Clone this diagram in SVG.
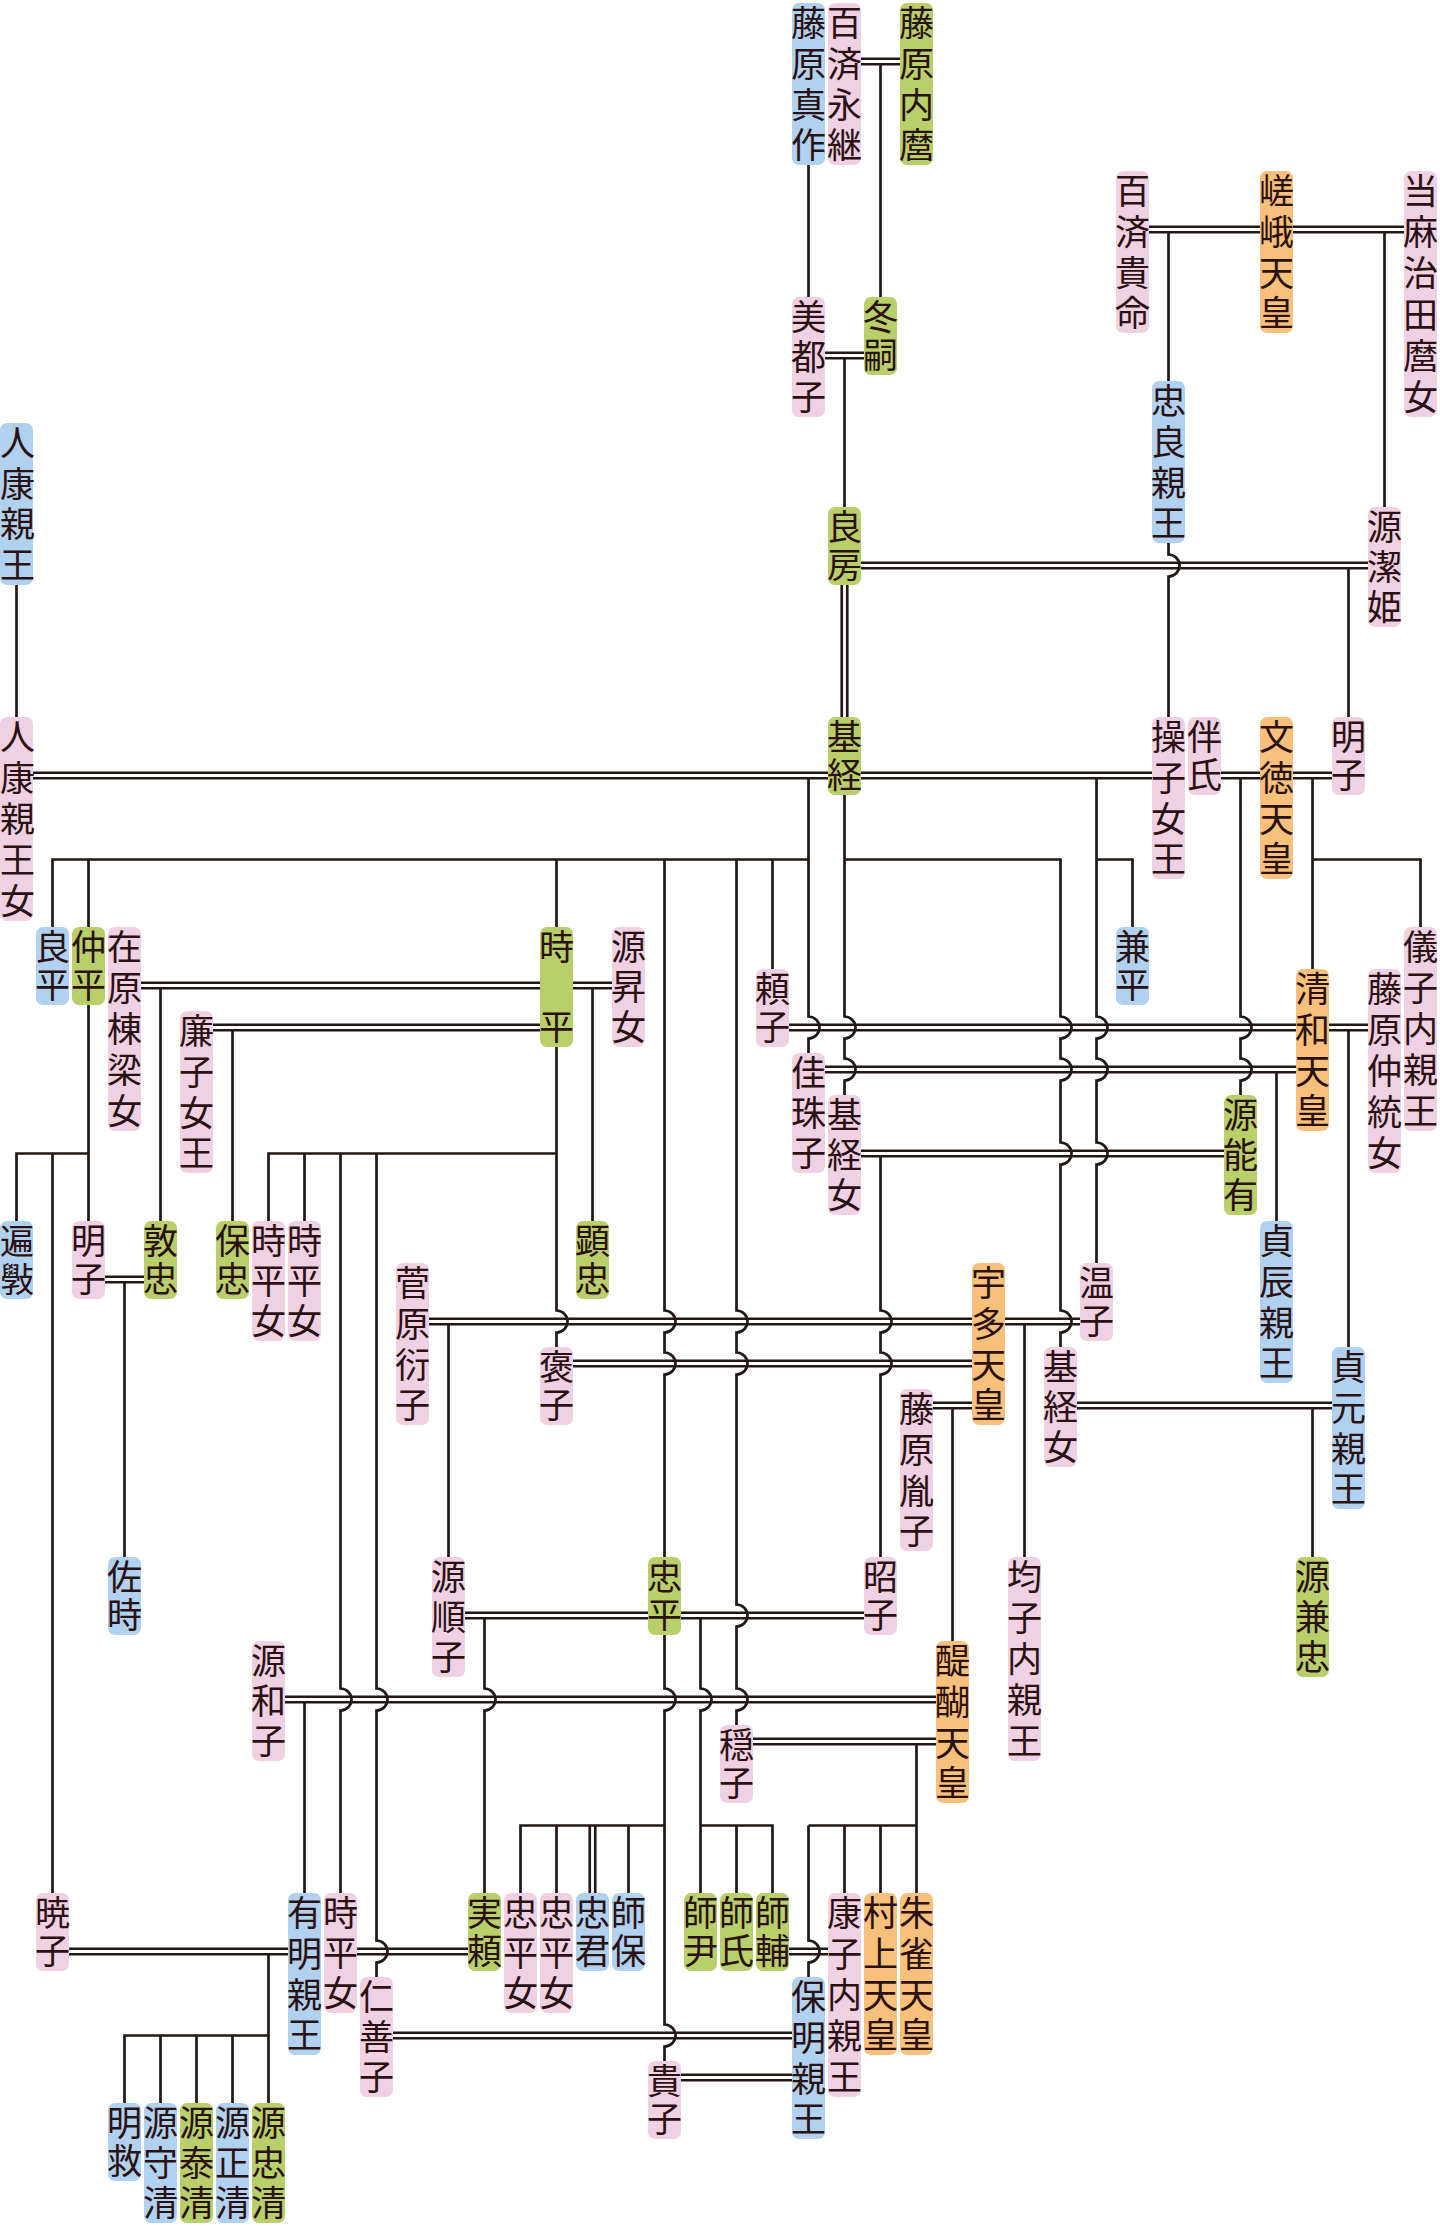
<svg xmlns="http://www.w3.org/2000/svg" width="1440" height="2226" viewBox="0 0 1440 2226">
<style>
rect{rx:7px;ry:7px}
.pk{fill:#f0d1e4}.bl{fill:#b0d1ef}.gr{fill:#b9cf6a}.or{fill:#f7c07b}
text{font-family:"Noto Sans CJK JP","Noto Sans CJK SC",sans-serif;font-size:35px;fill:#2b1212;writing-mode:vertical-rl;text-anchor:start}
text.h{font-family:"Liberation Serif","Noto Sans CJK JP",sans-serif;writing-mode:horizontal-tb;text-anchor:middle}
.s2{letter-spacing:3px}.s3{letter-spacing:5px}.s4{letter-spacing:5.667px}.s5{letter-spacing:6px}.s6{letter-spacing:6.2px}.sw{letter-spacing:45px}
.l{fill:none;stroke:#231815;stroke-width:2.7}
</style>
<rect x="0" y="0" width="1440" height="2226" fill="#ffffff" rx="0" ry="0"/>
<g id="connectors" class="l">
<path d="M861 58.75H900M861 64.25H900"/>
<path d="M825 352.75H864M825 358.25H864"/>
<path d="M1149 226.75H1260M1149 232.25H1260"/>
<path d="M1293 226.75H1404M1293 232.25H1404"/>
<path d="M861 562.75H1368M861 568.25H1368"/>
<path d="M33 772.75H828M33 778.25H828"/>
<path d="M861 772.75H1152M861 778.25H1152"/>
<path d="M1221 772.75H1260M1221 778.25H1260"/>
<path d="M1293 772.75H1332M1293 778.25H1332"/>
<path d="M141 982.75H540M141 988.25H540"/>
<path d="M573 982.75H612M573 988.25H612"/>
<path d="M213 1024.75H540M213 1030.25H540"/>
<path d="M789 1024.75H1296M789 1030.25H1296"/>
<path d="M1329 1024.75H1368M1329 1030.25H1368"/>
<path d="M825 1066.75H1296M825 1072.25H1296"/>
<path d="M861 1150.75H1224M861 1156.25H1224"/>
<path d="M105 1276.75H144M105 1282.25H144"/>
<path d="M429 1318.75H972M429 1324.25H972"/>
<path d="M1005 1318.75H1080M1005 1324.25H1080"/>
<path d="M573 1360.75H972M573 1366.25H972"/>
<path d="M933 1402.75H972M933 1408.25H972"/>
<path d="M1077 1402.75H1332M1077 1408.25H1332"/>
<path d="M465 1612.75H648M465 1618.25H648"/>
<path d="M681 1612.75H864M681 1618.25H864"/>
<path d="M285 1696.75H936M285 1702.25H936"/>
<path d="M753 1738.75H936M753 1744.25H936"/>
<path d="M69 1948.75H288M69 1954.25H288"/>
<path d="M357 1948.75H468M357 1954.25H468"/>
<path d="M789 1948.75H828M789 1954.25H828"/>
<path d="M393 2032.75H792M393 2038.25H792"/>
<path d="M681 2074.75H792M681 2080.25H792"/>
<path d="M880.5 64.25V297"/>
<path d="M808.5 165V297"/>
<path d="M844.5 358.25V507"/>
<path d="M1168.5 232.25V381"/>
<path d="M1384.5 232.25V507"/>
<path d="M1168.5 543V554.5a11 11 0 0 1 0 22V717"/>
<path d="M1348.5 568.25V717"/>
<path d="M841.75 585V717M847.25 585V717"/>
<path d="M16.5 585V717"/>
<path d="M808.5 778.25V1016.5a11 11 0 0 1 0 22V1053"/>
<path d="M52.5 927V859.5H808.5"/>
<path d="M88.5 859.5V927M556.5 859.5V927M772.5 859.5V969"/>
<path d="M664.5 859.5V1310.5a11 11 0 0 1 0 22V1352.5a11 11 0 0 1 0 22V1557"/>
<path d="M736.5 859.5V1310.5a11 11 0 0 1 0 22V1352.5a11 11 0 0 1 0 22V1604.5a11 11 0 0 1 0 22V1688.5a11 11 0 0 1 0 22V1725"/>
<path d="M844.5 795V1016.5a11 11 0 0 1 0 22V1058.5a11 11 0 0 1 0 22V1095"/>
<path d="M844.5 859.5H1060.5V1016.5a11 11 0 0 1 0 22V1058.5a11 11 0 0 1 0 22V1142.5a11 11 0 0 1 0 22V1310.5a11 11 0 0 1 0 22V1347"/>
<path d="M1096.5 778.25V1016.5a11 11 0 0 1 0 22V1058.5a11 11 0 0 1 0 22V1142.5a11 11 0 0 1 0 22V1263"/>
<path d="M1096.5 859.5H1132.5V927"/>
<path d="M1240.5 778.25V1016.5a11 11 0 0 1 0 22V1058.5a11 11 0 0 1 0 22V1095"/>
<path d="M1312.5 778.25V969M1312.5 859.5H1420.5V927"/>
<path d="M160.5 988.25V1221"/>
<path d="M592.5 988.25V1221"/>
<path d="M232.5 1030.25V1221"/>
<path d="M556.5 1047V1310.5a11 11 0 0 1 0 22V1347"/>
<path d="M268.5 1221V1153.5H556.5M304.5 1153.5V1221"/>
<path d="M340.5 1153.5V1688.5a11 11 0 0 1 0 22V1893"/>
<path d="M376.5 1153.5V1688.5a11 11 0 0 1 0 22V1940.5a11 11 0 0 1 0 22V1977"/>
<path d="M88.5 1005V1221M16.5 1221V1153.5H88.5M52.5 1153.5V1893"/>
<path d="M1348.5 1030.25V1347"/>
<path d="M1276.5 1072.25V1221"/>
<path d="M880.5 1156.25V1310.5a11 11 0 0 1 0 22V1352.5a11 11 0 0 1 0 22V1557"/>
<path d="M124.5 1282.25V1557"/>
<path d="M448.5 1324.25V1557"/>
<path d="M1024.5 1324.25V1557"/>
<path d="M952.5 1408.25V1641"/>
<path d="M1312.5 1408.25V1557"/>
<path d="M484.5 1618.25V1688.5a11 11 0 0 1 0 22V1893"/>
<path d="M700.5 1618.25V1688.5a11 11 0 0 1 0 22V1893M700.5 1825.5H772.5V1893M736.5 1825.5V1893"/>
<path d="M664.5 1635V1688.5a11 11 0 0 1 0 22V2024.5a11 11 0 0 1 0 22V2061"/>
<path d="M520.5 1893V1825.5H664.5M556.5 1825.5V1893M628.5 1825.5V1893M589.75 1825.5V1893M595.25 1825.5V1893"/>
<path d="M304.5 1702.25V1893"/>
<path d="M916.5 1744.25V1893M808.5 1825.5H916.5M844.5 1825.5V1893M880.5 1825.5V1893"/>
<path d="M808.5 1825.5V1940.5a11 11 0 0 1 0 22V1977"/>
<path d="M268.5 1954.25V2103M124.5 2103V2035.5H268.5M160.5 2035.5V2103M196.5 2035.5V2103M232.5 2035.5V2103"/>
</g>
<g id="n1"><rect class="bl" x="792" y="3" width="33" height="162"/><text class="s4" x="808.5" y="5.5">藤原真作</text></g>
<g id="n2"><rect class="pk" x="828" y="3" width="33" height="162"/><text class="s4" x="844.5" y="5.5">百済永継</text></g>
<g id="n3"><rect class="gr" x="900" y="3" width="33" height="162"/><text class="s4" x="916.5" y="5.5">藤原内麿</text></g>
<g id="n4"><rect class="pk" x="1116" y="171" width="33" height="162"/><text class="s4" x="1132.5" y="173.5">百済貴命</text></g>
<g id="n5"><rect class="or" x="1260" y="171" width="33" height="162"/><text class="s4" x="1276.5" y="173.5">嵯峨天皇</text></g>
<g id="n6"><rect class="pk" x="1404" y="171" width="33" height="246"/><text class="h"><tspan x="1420.5" y="204">当</tspan><tspan x="1420.5" y="245.2">麻</tspan><tspan x="1420.5" y="286.4">治</tspan><tspan x="1420.5" y="327.6">田</tspan><tspan x="1420.5" y="368.8">麿</tspan><tspan x="1420.5" y="410">女</tspan></text></g>
<g id="n7"><rect class="pk" x="792" y="297" width="33" height="120"/><text class="s3" x="808.5" y="299.5">美都子</text></g>
<g id="n8"><rect class="gr" x="864" y="297" width="33" height="78"/><text class="s2" x="880.5" y="299.5">冬嗣</text></g>
<g id="n9"><rect class="bl" x="1152" y="381" width="33" height="162"/><text class="s4" x="1168.5" y="383.5">忠良親王</text></g>
<g id="n10"><rect class="bl" x="0" y="423" width="33" height="162"/><text class="h"><tspan x="17.5" y="456">人</tspan><tspan x="17.5" y="496.7">康</tspan><tspan x="17.5" y="537.3">親</tspan><tspan x="17.5" y="578">王</tspan></text></g>
<g id="n11"><rect class="gr" x="828" y="507" width="33" height="78"/><text class="s2" x="844.5" y="509.5">良房</text></g>
<g id="n12"><rect class="pk" x="1368" y="507" width="33" height="120"/><text class="s3" x="1384.5" y="509.5">源潔姫</text></g>
<g id="n13"><rect class="pk" x="0" y="717" width="33" height="204"/><text class="h"><tspan x="17.5" y="750">人</tspan><tspan x="17.5" y="791">康</tspan><tspan x="17.5" y="832">親</tspan><tspan x="17.5" y="873">王</tspan><tspan x="17.5" y="914">女</tspan></text></g>
<g id="n14"><rect class="gr" x="828" y="717" width="33" height="78"/><text class="s2" x="844.5" y="719.5">基経</text></g>
<g id="n15"><rect class="pk" x="1152" y="717" width="33" height="162"/><text class="s4" x="1168.5" y="719.5">操子女王</text></g>
<g id="n16"><rect class="pk" x="1188" y="717" width="33" height="78"/><text class="s2" x="1204.5" y="719.5">伴氏</text></g>
<g id="n17"><rect class="or" x="1260" y="717" width="33" height="162"/><text class="s4" x="1276.5" y="719.5">文徳天皇</text></g>
<g id="n18"><rect class="pk" x="1332" y="717" width="33" height="78"/><text class="s2" x="1348.5" y="719.5">明子</text></g>
<g id="n19"><rect class="bl" x="36" y="927" width="33" height="78"/><text class="s2" x="52.5" y="929.5">良平</text></g>
<g id="n20"><rect class="gr" x="72" y="927" width="33" height="78"/><text class="s2" x="88.5" y="929.5">仲平</text></g>
<g id="n21"><rect class="pk" x="108" y="927" width="33" height="204"/><text class="s5" x="124.5" y="929.5">在原棟梁女</text></g>
<g id="n22"><rect class="gr" x="540" y="927" width="33" height="120"/><text class="sw" x="556.5" y="929.5">時平</text></g>
<g id="n23"><rect class="pk" x="612" y="927" width="33" height="120"/><text class="s3" x="628.5" y="929.5">源昇女</text></g>
<g id="n24"><rect class="bl" x="1116" y="927" width="33" height="78"/><text class="s2" x="1132.5" y="929.5">兼平</text></g>
<g id="n25"><rect class="pk" x="1404" y="927" width="33" height="204"/><text class="h"><tspan x="1420.5" y="960">儀</tspan><tspan x="1420.5" y="1001">子</tspan><tspan x="1420.5" y="1042">内</tspan><tspan x="1420.5" y="1083">親</tspan><tspan x="1420.5" y="1124">王</tspan></text></g>
<g id="n26"><rect class="pk" x="756" y="969" width="33" height="78"/><text class="s2" x="772.5" y="971.5">頼子</text></g>
<g id="n27"><rect class="or" x="1296" y="969" width="33" height="162"/><text class="s4" x="1312.5" y="971.5">清和天皇</text></g>
<g id="n28"><rect class="pk" x="1368" y="969" width="33" height="204"/><text class="s5" x="1384.5" y="971.5">藤原仲統女</text></g>
<g id="n29"><rect class="pk" x="180" y="1011" width="33" height="162"/><text class="s4" x="196.5" y="1013.5">廉子女王</text></g>
<g id="n30"><rect class="pk" x="792" y="1053" width="33" height="120"/><text class="s3" x="808.5" y="1055.5">佳珠子</text></g>
<g id="n31"><rect class="pk" x="828" y="1095" width="33" height="120"/><text class="s3" x="844.5" y="1097.5">基経女</text></g>
<g id="n32"><rect class="gr" x="1224" y="1095" width="33" height="120"/><text class="s3" x="1240.5" y="1097.5">源能有</text></g>
<g id="n33"><rect class="bl" x="0" y="1221" width="33" height="78"/><text class="h" style="font-size:34px"><tspan x="17" y="1254">遍</tspan><tspan x="17" y="1292">斅</tspan></text></g>
<g id="n34"><rect class="pk" x="72" y="1221" width="33" height="78"/><text class="s2" x="88.5" y="1223.5">明子</text></g>
<g id="n35"><rect class="gr" x="144" y="1221" width="33" height="78"/><text class="s2" x="160.5" y="1223.5">敦忠</text></g>
<g id="n36"><rect class="gr" x="216" y="1221" width="33" height="78"/><text class="s2" x="232.5" y="1223.5">保忠</text></g>
<g id="n37"><rect class="pk" x="252" y="1221" width="33" height="120"/><text class="s3" x="268.5" y="1223.5">時平女</text></g>
<g id="n38"><rect class="pk" x="288" y="1221" width="33" height="120"/><text class="s3" x="304.5" y="1223.5">時平女</text></g>
<g id="n39"><rect class="gr" x="576" y="1221" width="33" height="78"/><text class="s2" x="592.5" y="1223.5">顕忠</text></g>
<g id="n40"><rect class="bl" x="1260" y="1221" width="33" height="162"/><text class="s4" x="1276.5" y="1223.5">貞辰親王</text></g>
<g id="n41"><rect class="pk" x="396" y="1263" width="33" height="162"/><text class="s4" x="412.5" y="1265.5">菅原衍子</text></g>
<g id="n42"><rect class="or" x="972" y="1263" width="33" height="162"/><text class="s4" x="988.5" y="1265.5">宇多天皇</text></g>
<g id="n43"><rect class="pk" x="1080" y="1263" width="33" height="78"/><text class="s2" x="1096.5" y="1265.5">温子</text></g>
<g id="n44"><rect class="pk" x="540" y="1347" width="33" height="78"/><text class="s2" x="556.5" y="1349.5">褒子</text></g>
<g id="n45"><rect class="pk" x="1044" y="1347" width="33" height="120"/><text class="s3" x="1060.5" y="1349.5">基経女</text></g>
<g id="n46"><rect class="bl" x="1332" y="1347" width="33" height="162"/><text class="s4" x="1348.5" y="1349.5">貞元親王</text></g>
<g id="n47"><rect class="pk" x="900" y="1389" width="33" height="162"/><text class="s4" x="916.5" y="1391.5">藤原胤子</text></g>
<g id="n48"><rect class="bl" x="108" y="1557" width="33" height="78"/><text class="s2" x="124.5" y="1559.5">佐時</text></g>
<g id="n49"><rect class="pk" x="432" y="1557" width="33" height="120"/><text class="s3" x="448.5" y="1559.5">源順子</text></g>
<g id="n50"><rect class="gr" x="648" y="1557" width="33" height="78"/><text class="s2" x="664.5" y="1559.5">忠平</text></g>
<g id="n51"><rect class="pk" x="864" y="1557" width="33" height="78"/><text class="s2" x="880.5" y="1559.5">昭子</text></g>
<g id="n52"><rect class="pk" x="1008" y="1557" width="33" height="204"/><text class="s5" x="1024.5" y="1559.5">均子内親王</text></g>
<g id="n53"><rect class="gr" x="1296" y="1557" width="33" height="120"/><text class="s3" x="1312.5" y="1559.5">源兼忠</text></g>
<g id="n54"><rect class="pk" x="252" y="1641" width="33" height="120"/><text class="s3" x="268.5" y="1643.5">源和子</text></g>
<g id="n55"><rect class="or" x="936" y="1641" width="33" height="162"/><text class="s4" x="952.5" y="1643.5">醍醐天皇</text></g>
<g id="n56"><rect class="pk" x="720" y="1725" width="33" height="78"/><text class="s2" x="736.5" y="1727.5">穏子</text></g>
<g id="n57"><rect class="pk" x="36" y="1893" width="33" height="78"/><text class="s2" x="52.5" y="1895.5">暁子</text></g>
<g id="n58"><rect class="bl" x="288" y="1893" width="33" height="162"/><text class="s4" x="304.5" y="1895.5">有明親王</text></g>
<g id="n59"><rect class="pk" x="324" y="1893" width="33" height="120"/><text class="s3" x="340.5" y="1895.5">時平女</text></g>
<g id="n60"><rect class="gr" x="468" y="1893" width="33" height="78"/><text class="s2" x="484.5" y="1895.5">実頼</text></g>
<g id="n61"><rect class="pk" x="504" y="1893" width="33" height="120"/><text class="s3" x="520.5" y="1895.5">忠平女</text></g>
<g id="n62"><rect class="pk" x="540" y="1893" width="33" height="120"/><text class="s3" x="556.5" y="1895.5">忠平女</text></g>
<g id="n63"><rect class="bl" x="576" y="1893" width="33" height="78"/><text class="s2" x="592.5" y="1895.5">忠君</text></g>
<g id="n64"><rect class="bl" x="612" y="1893" width="33" height="78"/><text class="s2" x="628.5" y="1895.5">師保</text></g>
<g id="n65"><rect class="gr" x="684" y="1893" width="33" height="78"/><text class="s2" x="700.5" y="1895.5">師尹</text></g>
<g id="n66"><rect class="gr" x="720" y="1893" width="33" height="78"/><text class="s2" x="736.5" y="1895.5">師氏</text></g>
<g id="n67"><rect class="gr" x="756" y="1893" width="33" height="78"/><text class="s2" x="772.5" y="1895.5">師輔</text></g>
<g id="n68"><rect class="pk" x="828" y="1893" width="33" height="204"/><text class="s5" x="844.5" y="1895.5">康子内親王</text></g>
<g id="n69"><rect class="or" x="864" y="1893" width="33" height="162"/><text class="s4" x="880.5" y="1895.5">村上天皇</text></g>
<g id="n70"><rect class="or" x="900" y="1893" width="33" height="162"/><text class="s4" x="916.5" y="1895.5">朱雀天皇</text></g>
<g id="n71"><rect class="pk" x="360" y="1977" width="33" height="120"/><text class="s3" x="376.5" y="1979.5">仁善子</text></g>
<g id="n72"><rect class="bl" x="792" y="1977" width="33" height="162"/><text class="s4" x="808.5" y="1979.5">保明親王</text></g>
<g id="n73"><rect class="pk" x="648" y="2061" width="33" height="78"/><text class="s2" x="664.5" y="2063.5">貴子</text></g>
<g id="n74"><rect class="bl" x="108" y="2103" width="33" height="78"/><text class="s2" x="124.5" y="2105.5">明救</text></g>
<g id="n75"><rect class="bl" x="144" y="2103" width="33" height="120"/><text class="s3" x="160.5" y="2105.5">源守清</text></g>
<g id="n76"><rect class="gr" x="180" y="2103" width="33" height="120"/><text class="s3" x="196.5" y="2105.5">源泰清</text></g>
<g id="n77"><rect class="bl" x="216" y="2103" width="33" height="120"/><text class="s3" x="232.5" y="2105.5">源正清</text></g>
<g id="n78"><rect class="gr" x="252" y="2103" width="33" height="120"/><text class="s3" x="268.5" y="2105.5">源忠清</text></g>
</svg>
